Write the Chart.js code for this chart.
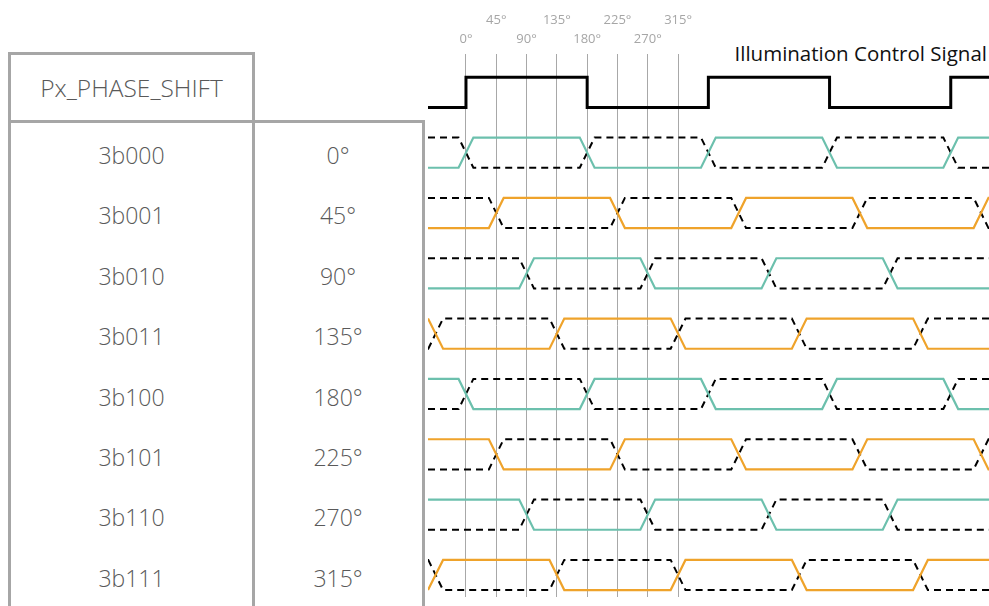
<!DOCTYPE html>
<html>
<head>
<meta charset="utf-8">
<script src="https://cdn.jsdelivr.net/npm/chart.js@4.4.1/dist/chart.umd.min.js"></script>
<style>
  html, body { margin: 0; padding: 0; background: #fff; }
  body { width: 989px; height: 606px; overflow: hidden; position: relative;
         font-family: "Open Sans", sans-serif; font-weight: 300; color: #595959; }
  #wave { position: absolute; left: 0; top: 0; }
  .box { position: absolute; box-sizing: border-box; border: 3px solid #a6a6a6; border-bottom: none; }
  .vline { position: absolute; background: #a6a6a6; width: 3px; }
  .cell { position: absolute; font-size: 23px; text-align: center; line-height: 30px; white-space: nowrap; }
  #sigLabel { position: absolute; right: 2px; top: 38px; font-size: 20.5px; line-height: 30px; color: #111; font-weight: 400; }
</style>
</head>
<body>
<div class="box" style="left:8px;top:52px;width:247px;height:72px"></div>
<div class="box" style="left:8px;top:120px;width:417px;height:500px"></div>
<div class="vline" style="left:252px;top:120px;height:500px"></div>
<div class="cell" style="left:11px;top:73px;width:241px;font-size:24.5px">Px_PHASE_SHIFT</div>
<div id="rows"></div>
<div id="sigLabel">Illumination Control Signal</div>
<canvas id="wave" width="989" height="606"></canvas>
<script>
// 相位設定（表格 + 波形）
var phaseCodes = ["3b000", "3b001", "3b010", "3b011", "3b100", "3b101", "3b110", "3b111"];
var phaseDegrees = [0, 45, 90, 135, 180, 225, 270, 315];
var rowColors = ["#6cc0ad", "#efa32b", "#6cc0ad", "#efa32b", "#6cc0ad", "#efa32b", "#6cc0ad", "#efa32b"];
// 照明控制訊號的邊沿（度）
var illumEdges = [0, 180, 360, 540, 720];
var rampHalf = 11;          // 邊沿斜坡半寬（度）
var xMin = -56.4, xMax = 776.8;

// 表格文字
var rowsEl = document.getElementById("rows");
for (var i = 0; i < phaseCodes.length; i++) {
  var rowTop = 140 + 60.4 * i;
  rowsEl.innerHTML +=
    '<div class="cell" style="left:11px;top:' + rowTop + 'px;width:241px">' + phaseCodes[i] + '</div>' +
    '<div class="cell" style="left:255px;top:' + rowTop + 'px;width:166px">' + phaseDegrees[i] + '°</div>';
}

function levelPts(edges, startHigh, hi, lo, ramp) {
  var pts = [];
  var lvl = startHigh;
  if (edges.length === 0 || edges[0] - ramp > xMin) pts.push({ x: xMin, y: lvl ? hi : lo });
  edges.forEach(function(e) {
    pts.push({ x: e - ramp, y: lvl ? hi : lo });
    lvl = !lvl;
    pts.push({ x: e + ramp, y: lvl ? hi : lo });
  });
  if (edges.length === 0 || edges[edges.length - 1] + ramp < xMax) pts.push({ x: xMax, y: lvl ? hi : lo });
  return pts;
}

// 每列的邊沿：從 phase-360 開始，上升/下降交替
function rowEdges(phase) {
  var out = [], k = 0, first = null;
  for (var e = phase - 360; e - rampHalf < xMax; e += 180, k++) {
    if (e + rampHalf > xMin) {
      if (first === null) first = k;
      out.push(e);
    }
  }
  // 第一個保留的邊沿若為上升沿，之前是低電位
  return { edges: out, startHigh: first % 2 === 1 };
}

var datasets = [];
datasets.push({
  data: levelPts(illumEdges, false, -2, -1, 0),
  borderColor: "#000", borderWidth: 3, pointRadius: 0, tension: 0
});
for (var r = 0; r < phaseDegrees.length; r++) {
  var re = rowEdges(phaseDegrees[r]);
  datasets.push({
    data: levelPts(re.edges, re.startHigh, 2 * r, 2 * r + 1, rampHalf),
    borderColor: rowColors[r], borderWidth: 2.2, pointRadius: 0, tension: 0
  });
  datasets.push({
    data: levelPts(re.edges, !re.startHigh, 2 * r, 2 * r + 1, rampHalf),
    borderColor: "#000", borderWidth: 2, borderDash: [7, 5], pointRadius: 0, tension: 0
  });
}

var chart = new Chart(document.getElementById("wave"), {
  type: "line",
  data: { datasets: datasets },
  options: {
    responsive: false,
    devicePixelRatio: 1,
    animation: false,
    layout: { padding: { left: 428, right: 0, top: 6, bottom: 9 } },
    plugins: { legend: { display: false }, tooltip: { enabled: false } },
    scales: {
      x: {
        type: "linear",
        position: "top",
        min: xMin,
        max: xMax,
        afterBuildTicks: function(axis) {
          axis.ticks = phaseDegrees.map(function(v) { return { value: v }; });
        },
        grid: { color: "#a8a8a8", lineWidth: 1, drawTicks: false },
        border: { display: false },
        ticks: {
          autoSkip: false,
          maxRotation: 0,
          padding: 5,
          color: "#a6a6a6",
          font: { family: "Open Sans", size: 13, lineHeight: 1.45 },
          callback: function(v, idx) {
            var s = phaseDegrees[idx] + "°";
            return idx % 2 === 1 ? [s, ""] : ["", s];
          }
        }
      },
      y: {
        type: "linear",
        display: false,
        reverse: true,
        min: -2.78,
        max: 15.23
      }
    }
  }
});
</script>
</body>
</html>
